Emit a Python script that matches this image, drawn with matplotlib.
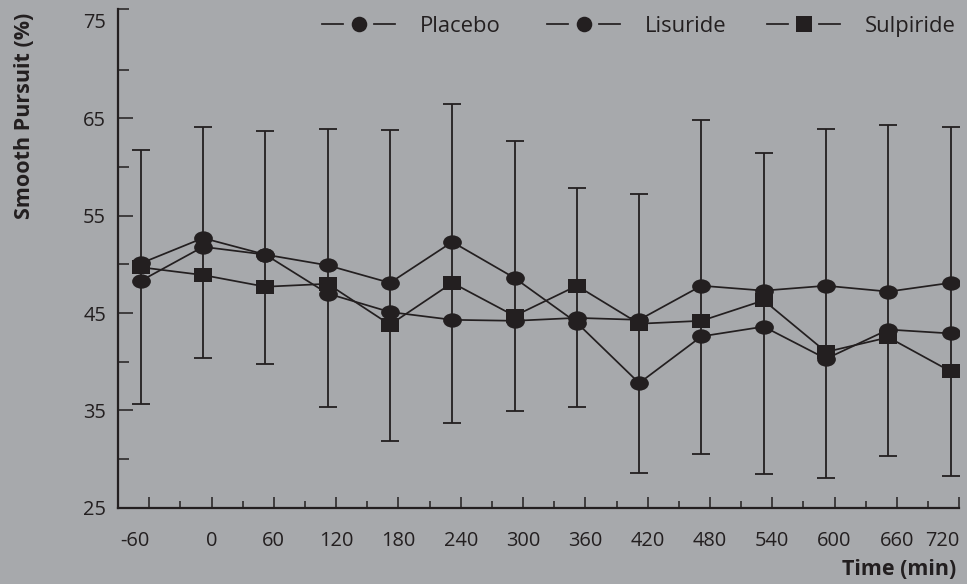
import numpy as np
import matplotlib
matplotlib.use("Agg")
import matplotlib.pyplot as plt
from matplotlib.path import Path
from matplotlib.transforms import Affine2D
from matplotlib.lines import Line2D

# ---------------- data ----------------
times = [-60, 0, 60, 120, 180, 240, 300, 360, 420, 480, 540, 600, 660, 720]
placebo = [48.3, 51.8, 51.0, 47.0, 45.1, 44.3, 44.2, 44.5, 44.3, 47.8, 47.3, 47.8, 47.2, 48.1]
lisuride = [50.1, 52.7, 51.0, 49.9, 48.1, 52.3, 48.6, 44.0, 37.8, 42.6, 43.6, 40.3, 43.3, 42.9]
sulpiride = [49.7, 48.9, 47.7, 48.0, 43.8, 48.1, 44.7, 47.8, 43.9, 44.2, 46.3, 41.0, 42.5, 39.0]
bar_top = [61.7, 64.1, 63.7, 63.9, 63.8, 66.5, 62.7, 57.8, 57.2, 64.8, 61.4, 63.9, 64.3, 64.1]
bar_bottom = [35.7, 40.4, 39.8, 35.3, 31.9, 33.7, 34.9, 35.3, 28.6, 30.5, 28.5, 28.0, 30.3, 28.3]
series_names = ["Placebo", "Lisuride", "Sulpiride"]
y_tick_values = [25, 35, 45, 55, 65, 75]
x_tick_labels = [str(t) for t in times]

# ---------------- style ----------------
BG = "#a7a9ac"
INK = "#231f20"
FONT = ["Open Sans", "DejaVu Sans"]
plt.rcParams["font.family"] = FONT

W, H = 967, 584
fig = plt.figure(figsize=(W / 100, H / 100), dpi=100, facecolor=BG)

ax_left, ax_right, ax_bottom_px, ax_top_px = 118.0, 959.3, 507.7, 9.3
ax = fig.add_axes([ax_left / W, (H - ax_bottom_px) / H,
                   (ax_right - ax_left) / W, (ax_bottom_px - ax_top_px) / H])
ax.set_facecolor(BG)

# stretched markers (wider than tall, as in the reference)
ell = Path.unit_circle().transformed(Affine2D().scale(1.0, 0.765))
sq_verts = np.array([[-1, -0.765], [1, -0.765], [1, 0.765], [-1, 0.765], [-1, -0.765]])
sq = Path(sq_verts, [Path.MOVETO, Path.LINETO, Path.LINETO, Path.LINETO, Path.CLOSEPOLY])

ms = 13.5
lw = 1.25
x = np.array(times, dtype=float)

# error bars
lo = np.array(bar_bottom)
hi = np.array(bar_top)
mid = (lo + hi) / 2
half = (hi - lo) / 2
ax.errorbar(x, mid, yerr=half, fmt="none", ecolor=INK, elinewidth=1.3,
            capsize=6.4, capthick=1.3, zorder=2)

for vals, mk in [(placebo, ell), (lisuride, ell), (sulpiride, sq)]:
    ax.plot(x, vals, color=INK, lw=lw, marker=mk, markersize=ms,
            markerfacecolor=INK, markeredgewidth=0, zorder=3,
            solid_joinstyle="miter")

ax.set_xlim(-81.9, 728.3)
ax.set_ylim(25, 76.2)

for s in ["top", "right"]:
    ax.spines[s].set_visible(False)
for s in ["left", "bottom"]:
    ax.spines[s].set_color(INK)
    ax.spines[s].set_linewidth(1.6)

tick_offset = 8.2
major_x = np.array(times) + tick_offset
minor_x = (major_x[:-1] + major_x[1:]) / 2
ax.set_xticks(major_x)
ax.set_xticklabels(x_tick_labels)
ax.set_xticks(minor_x, minor=True)
ax.set_yticks(y_tick_values)
ax.set_yticklabels([str(v) for v in y_tick_values])
ax.set_yticks([30, 40, 50, 60, 70, 76.2], minor=True)

ax.tick_params(axis="x", which="major", direction="in", length=7.7, width=1.1,
               color=INK, labelcolor=INK, labelsize=14.4, pad=16.5)
ax.tick_params(axis="x", which="minor", direction="in", length=5.3, width=1.1, color=INK)
ax.tick_params(axis="y", which="major", direction="in", length=10.8, width=1.1,
               color=INK, labelcolor=INK, labelsize=14.4, pad=8.6)
ax.tick_params(axis="y", which="minor", direction="in", length=7.9, width=1.1, color=INK)

ax.yaxis.get_major_ticks()[0].tick1line.set_visible(False)
ax.yaxis.get_major_ticks()[-1].tick1line.set_visible(False)
xl = ax.get_xticklabels()
xl[0].set_ha("right")
xl[-1].set_ha("right")

# axis titles
fig.text(25 / W, 1 - 115.5 / H, "Smooth Pursuit (%)", rotation=90, ha="center",
         va="center", fontsize=15.5, fontweight="bold", color=INK)
fig.text(956 / W, 1 - 575 / H, "Time (min)", ha="right", va="baseline",
         fontsize=15.5, fontweight="bold", color=INK)

# legend (drawn in figure pixels)
legend_x0 = [321.7, 546.7, 767.3]
legend_markers = ["o", "o", "s"]
leg_y = 23.8
for name, x0, mk in zip(series_names, legend_x0, legend_markers):
    yf = 1 - leg_y / H
    for a, b in [(x0, x0 + 21), (x0 + 52, x0 + 73)]:
        fig.add_artist(Line2D([a / W, b / W], [yf, yf], transform=fig.transFigure,
                              color=INK, lw=1.25))
    msz = 11.2 if mk == "o" else 11.0
    fig.add_artist(Line2D([(x0 + 36.8) / W], [yf], transform=fig.transFigure,
                          marker=mk, markersize=msz, color=INK,
                          markerfacecolor=INK, markeredgewidth=0, lw=0))
    fig.text((x0 + 98) / W, 1 - 31.7 / H, name, ha="left", va="baseline",
             fontsize=15.8, color=INK)

fig.savefig("out.png", dpi=100, facecolor=BG)
